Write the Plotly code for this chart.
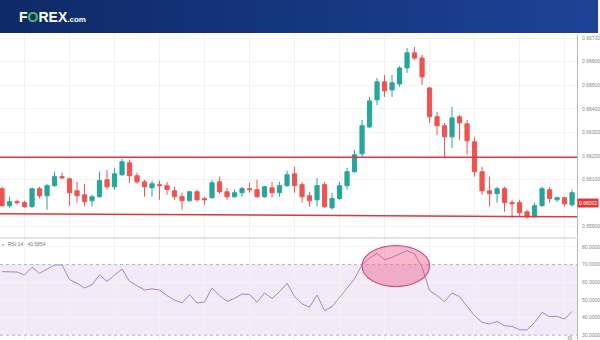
import plotly.graph_objects as go

# ---------------- data ----------------
OPEN = [0.66061,0.65989,0.66006,0.66002,0.65985,0.66061,0.66031,0.66074,0.66112,0.66103,
        0.66052,0.66035,0.66010,0.66027,0.66099,0.66069,0.66120,0.66171,0.66116,0.66090,
        0.66065,0.66078,0.66074,0.66052,0.66027,0.66010,0.66048,0.66019,0.66023,0.66090,
        0.66048,0.66027,0.66044,0.66061,0.66057,0.66027,0.66065,0.66044,0.66074,0.66124,
        0.66078,0.66031,0.66014,0.66078,0.65980,0.66019,0.66074,0.66133,0.66209,0.66323,
        0.66438,0.66514,0.66480,0.66505,0.66573,0.66637,0.66615,0.66488,0.66366,0.66328,
        0.66281,0.66366,0.66336,0.66260,0.66133,0.66052,0.66040,0.66061,0.66002,0.66002,
        0.65963,0.65942,0.65989,0.66057,0.66014,0.66023,0.65993]
HIGH = [0.66069,0.66027,0.66014,0.66010,0.66065,0.66069,0.66082,0.66133,0.66129,0.66107,
        0.66090,0.66082,0.66035,0.66133,0.66141,0.66150,0.66188,0.66184,0.66129,0.66099,
        0.66095,0.66095,0.66090,0.66069,0.66044,0.66052,0.66057,0.66027,0.66099,0.66112,
        0.66065,0.66057,0.66069,0.66086,0.66099,0.66074,0.66090,0.66090,0.66137,0.66154,
        0.66090,0.66048,0.66107,0.66090,0.66044,0.66090,0.66150,0.66226,0.66353,0.66450,
        0.66531,0.66543,0.66543,0.66581,0.66658,0.66662,0.66628,0.66493,0.66387,0.66340,
        0.66408,0.66374,0.66353,0.66281,0.66154,0.66112,0.66069,0.66069,0.66014,0.66014,
        0.65972,0.66002,0.66069,0.66069,0.66027,0.66027,0.66057]
LOW = [0.65985,0.65980,0.65993,0.65980,0.65980,0.66019,0.65972,0.66069,0.66103,0.65989,
       0.66002,0.65985,0.65985,0.66023,0.66057,0.66057,0.66116,0.66086,0.66082,0.66027,
       0.66027,0.66014,0.66035,0.66014,0.65972,0.66006,0.66006,0.65993,0.66019,0.66040,
       0.66014,0.66023,0.66027,0.66044,0.66023,0.66023,0.66023,0.66027,0.66069,0.66044,
       0.66002,0.65985,0.65985,0.65980,0.65972,0.66014,0.66057,0.66129,0.66196,0.66319,
       0.66416,0.66450,0.66450,0.66493,0.66552,0.66607,0.66501,0.66340,0.66289,0.66192,
       0.66234,0.66268,0.66205,0.66112,0.66035,0.65985,0.66002,0.65963,0.65938,0.65942,
       0.65934,0.65938,0.65985,0.66002,0.66006,0.65985,0.65985]
CLOSE = [0.65989,0.66006,0.66002,0.65985,0.66061,0.66031,0.66074,0.66112,0.66107,0.66044,
         0.66031,0.66006,0.66027,0.66095,0.66069,0.66124,0.66175,0.66116,0.66090,0.66069,
         0.66082,0.66074,0.66057,0.66027,0.66010,0.66048,0.66014,0.66014,0.66086,0.66048,
         0.66027,0.66044,0.66061,0.66057,0.66027,0.66069,0.66044,0.66074,0.66120,0.66074,
         0.66027,0.66010,0.66074,0.65985,0.66019,0.66074,0.66133,0.66205,0.66328,0.66433,
         0.66514,0.66476,0.66510,0.66573,0.66637,0.66615,0.66535,0.66366,0.66328,0.66281,
         0.66361,0.66340,0.66264,0.66133,0.66052,0.66040,0.66061,0.66002,0.65997,0.65959,
         0.65942,0.65989,0.66061,0.66019,0.66023,0.65997,0.66044]
RSI = [66.0,65.8,65.8,64.1,68.5,65.0,67.5,69.8,69.8,61.5,
       59.4,56.7,58.6,64.1,60.5,64.1,67.5,60.5,58.0,55.6,
       56.2,55.6,52.4,49.9,48.2,53.0,48.2,48.8,56.7,52.4,
       49.1,50.8,53.3,53.0,48.6,53.9,50.8,54.6,59.4,51.8,
       47.7,45.8,52.8,43.9,46.1,51.4,56.2,61.9,69.8,73.6,
       76.4,72.7,74.1,76.1,78.0,76.1,68.5,55.2,52.4,49.0,
       53.9,51.8,46.7,41.0,37.2,36.3,37.8,35.3,34.9,33.0,
       32.9,37.2,42.9,40.5,40.6,39.1,43.4]
IDX = list(range(len(OPEN)))

PRICE_TICKS = [0.6590, 0.6610, 0.6620, 0.6630, 0.6640, 0.6650, 0.6660, 0.6670]  # 0.6600 hidden by price tag
RSI_TICKS = [30, 40, 50, 60, 70, 80]
RESISTANCE = 0.66194
SUPPORT_START, SUPPORT_END = 0.65955, 0.65942
LAST_PRICE = 0.66002
RSI_LEGEND = "RSI 14"
RSI_VALUE = "40.5854"
RSI_UPPER, RSI_LOWER = 70, 30
HIGHLIGHT_X = (48.0, 57.0)
HIGHLIGHT_Y = (57.5, 80.8)

GREEN = "#26a69a"
RED = "#ef5350"

fig = go.Figure()
fig.add_trace(go.Candlestick(
    x=IDX, open=OPEN, high=HIGH, low=LOW, close=CLOSE,
    increasing=dict(line=dict(color=GREEN, width=1), fillcolor=GREEN),
    decreasing=dict(line=dict(color=RED, width=1), fillcolor=RED),
    whiskerwidth=0, xaxis="x", yaxis="y", showlegend=False, hoverinfo="skip"))
fig.add_trace(go.Scatter(
    x=IDX, y=RSI, mode="lines", line=dict(color="#a884c6", width=1),
    xaxis="x2", yaxis="y2", showlegend=False, hoverinfo="skip"))

shapes = []
# header gradient
N = 40
c0, c1 = (14, 42, 104), (30, 66, 150)
for i in range(N):
    t = i / (N - 1)
    col = "rgb(%d,%d,%d)" % tuple(int(a + (b - a) * t) for a, b in zip(c0, c1))
    shapes.append(dict(type="rect", xref="paper", yref="paper",
                       x0=i / N * (600 / 580), x1=(i + 1) / N * (600 / 580) + 0.002,
                       y0=1 - 33 / 340, y1=1, fillcolor=col, line=dict(width=0), layer="above"))
# RSI band
shapes.append(dict(type="rect", xref="x2 domain", yref="y2", x0=0, x1=1, y0=RSI_LOWER, y1=RSI_UPPER,
                   fillcolor="rgba(150,90,190,0.12)", line=dict(width=0), layer="below"))
for lv in (RSI_UPPER, RSI_LOWER):
    shapes.append(dict(type="line", xref="x2 domain", yref="y2", x0=0, x1=1, y0=lv, y1=lv,
                       line=dict(color="#c9a9d6", width=1, dash="dot")))
# separator
shapes.append(dict(type="line", xref="paper", yref="paper", x0=0, x1=1, y0=102 / 340, y1=102 / 340,
                   line=dict(color="#c8c8c8", width=1)))
# support / resistance
shapes.append(dict(type="line", xref="x domain", yref="y", x0=0, x1=1, y0=RESISTANCE, y1=RESISTANCE,
                   line=dict(color="#d93a3a", width=1.5)))
shapes.append(dict(type="line", xref="x domain", yref="y", x0=0, x1=1, y0=SUPPORT_START, y1=SUPPORT_END,
                   line=dict(color="#d93a3a", width=1.5)))
# highlight ellipse
shapes.append(dict(type="circle", xref="x2", yref="y2", x0=HIGHLIGHT_X[0], x1=HIGHLIGHT_X[1],
                   y0=HIGHLIGHT_Y[0], y1=HIGHLIGHT_Y[1],
                   fillcolor="rgba(235,86,138,0.42)", line=dict(color="#d4507c", width=1.2)))

annotations = [
    dict(xref="paper", yref="paper", x=17 / 580, y=1 - 17 / 340, xanchor="left", yanchor="middle",
         showarrow=False,
         text="<b>F<span style='color:#3fbf5f'>O</span>REX</b><b><span style='font-size:8px'>.com</span></b>",
         font=dict(family="Liberation Sans", size=14, color="white")),
    dict(xref="paper", yref="y", x=1, y=LAST_PRICE, xanchor="left", yanchor="middle", showarrow=False,
         text=f"{LAST_PRICE:.5f}", bgcolor="#e53935", borderpad=1,
         font=dict(family="Liberation Sans", size=5, color="white")),
    dict(xref="paper", yref="paper", x=6 / 580, y=(340 - 244) / 340, xanchor="left", yanchor="middle",
         showarrow=False, text=RSI_LEGEND + "&nbsp;&nbsp; " + RSI_VALUE,
         font=dict(family="Liberation Sans", size=5, color="#777")),
    dict(xref="paper", yref="paper", x=0, y=(340 - 244) / 340, xanchor="left", yanchor="middle",
         showarrow=False, text="▾", font=dict(size=4, color="#999")),
    dict(xref="paper", yref="paper", x=572 / 580, y=3 / 340, xanchor="center", yanchor="middle",
         showarrow=False, text="⚙", font=dict(family="DejaVu Sans", size=6, color="#999")),
]

XRANGE = [-0.27, 76.66]
fig.update_layout(
    width=600, height=340, margin=dict(l=0, r=20, t=0, b=0),
    paper_bgcolor="white", plot_bgcolor="white", boxgap=0.2,
    shapes=shapes, annotations=annotations, showlegend=False,
    xaxis=dict(domain=[0, 1], anchor="y", range=XRANGE, rangeslider=dict(visible=False),
               showticklabels=False, tickmode="linear", tick0=3, dtick=6,
               showgrid=True, gridcolor="#f2f2f2", zeroline=False, ticks=""),
    yaxis=dict(domain=[103 / 340, 305 / 340], side="right", range=[0.658562, 0.667127],
               tickvals=PRICE_TICKS, tickformat=".5f", showgrid=True, gridcolor="#f2f2f2",
               zeroline=False, showline=True, linecolor="#b8b8b8", linewidth=1, ticks="",
               tickfont=dict(family="Liberation Sans", size=5, color="#888"), ticklabelstandoff=3),
    xaxis2=dict(domain=[0, 1], anchor="y2", matches="x", showticklabels=False, tickmode="linear",
                tick0=3, dtick=6, showgrid=True, gridcolor="#f2f2f2", zeroline=False, ticks=""),
    yaxis2=dict(domain=[0, 102 / 340], side="right", range=[27.2, 85.1], tickvals=RSI_TICKS,
                tickformat=".4f", showgrid=True, gridcolor="#f4f4f4", zeroline=False,
                showline=True, linecolor="#b8b8b8", linewidth=1, ticks="",
                tickfont=dict(family="Liberation Sans", size=5, color="#888"), ticklabelstandoff=3),
)
fig.write_html("out.html")
